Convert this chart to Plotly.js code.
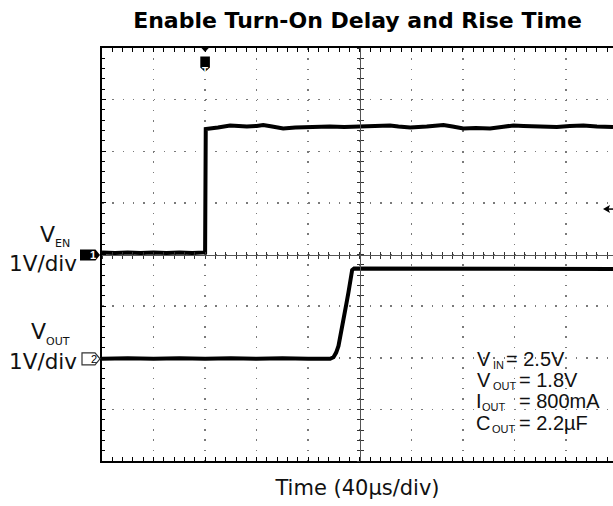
<!DOCTYPE html>
<html><head><meta charset="utf-8">
<script src="https://cdn.plot.ly/plotly-3.0.1.min.js"></script>
<style>html,body{margin:0;padding:0;background:#fff}#chart{width:613px;height:506px}</style>
</head><body><div id="chart"></div>
<script>
// ---- data (time in µs, volts) ----
const tEn = [-80, -70, -60, -50, -40, -30, -20, -10, 0, 0, 0.5, 10, 19.4, 26, 32.4, 40, 45.1, 52, 60.6, 70, 78.8, 88, 96.8, 108, 120.1, 132, 143.5, 150, 159.1, 172, 184.9, 192, 200.4, 210, 221.1, 230, 239.2, 247, 254.7, 264, 272.9, 283, 293.5, 304, 314.3, 316.5];
const vEn = [0.04, 0.03, 0.04, 0.03, 0.04, 0.03, 0.04, 0.03, 0.04, 2.40, 2.43, 2.46, 2.50, 2.49, 2.48, 2.49, 2.51, 2.48, 2.44, 2.46, 2.47, 2.48, 2.48, 2.47, 2.48, 2.49, 2.50, 2.48, 2.46, 2.48, 2.51, 2.48, 2.44, 2.45, 2.44, 2.47, 2.50, 2.49, 2.48, 2.47, 2.47, 2.49, 2.50, 2.48, 2.47, 2.47];
const tOut = [-80, -60, -40, -20, 0, 20, 40, 60, 80, 97, 99.6, 101.7, 103.5, 105.6, 107.4, 109.5, 111.2, 112.9, 114.1, 115.6, 130, 160, 190, 220, 250, 280, 316.5];
const vOut = [0.0, 0.01, 0.0, 0.01, 0.0, 0.01, 0.0, 0.01, 0.0, 0.0, 0.03, 0.12, 0.25, 0.5, 0.76, 1.05, 1.28, 1.6, 1.72, 1.75, 1.75, 1.74, 1.75, 1.74, 1.75, 1.74, 1.74];

const usPerDiv = 40;
const voltsPerDiv = 1;
const ch1Offset = 0;      // divisions
const ch2Offset = -2.02;  // divisions
const trigLevel = 0.88;   // volts, ch1
const xRange = [-80, 316.5];
const yRange = [-4, 4];

const chartTitle = 'Enable Turn-On Delay and Rise Time';
const xTitle = 'Time (40µs/div)';
const scaleText = '1V/div';
// [main symbol, subscript, value text]
const condMain = ['V', 'V', 'I', 'C'];
const condSub = ['IN', 'OUT', 'OUT', 'OUT'];
const condVal = ['= 2.5V', '= 1.8V', '= 800mA', '= 2.2µF'];

const wide = 'DejaVu Sans, sans-serif';
const narrow = 'Liberation Sans, Arial, sans-serif';

// pixel -> paper helpers for layout placement (plot area 102..613 x 48..461)
const P = px => (px - 102) / 511;
const Q = py => (461 - py) / 413;
const txt = (text, px, py, xanchor, family, size, extra) => Object.assign({xref: 'paper', yref: 'paper', x: P(px), y: Q(py),
  xanchor: xanchor, yanchor: 'middle', showarrow: false, borderpad: 0, borderwidth: 0, text: text,
  font: {family: family, size: size, color: '#111'}}, extra || {});

const traces = [
  {x: tEn, y: vEn.map(v => v / voltsPerDiv + ch1Offset), mode: 'lines', line: {color: '#000', width: 4}, showlegend: false, hoverinfo: 'skip'},
  {x: tOut, y: vOut.map(v => v / voltsPerDiv + ch2Offset), mode: 'lines', line: {color: '#000', width: 4}, showlegend: false, hoverinfo: 'skip'},
  {x: [null], y: [null], xaxis: 'x2', yaxis: 'y', showlegend: false, hoverinfo: 'skip'},
  {x: [null], y: [null], xaxis: 'x3', yaxis: 'y', showlegend: false, hoverinfo: 'skip'},
  {x: [null], y: [null], xaxis: 'x', yaxis: 'y2', showlegend: false, hoverinfo: 'skip'},
  {x: [null], y: [null], xaxis: 'x', yaxis: 'y3', showlegend: false, hoverinfo: 'skip'}
];

const gridStyle = {showgrid: true, gridcolor: '#7a7a7a', gridwidth: 1.5, griddash: '1.5px,8.8px'};
const centerX = (side) => ({overlaying: 'x', anchor: 'free', position: 0.5, range: xRange, showline: true, linecolor: '#555', linewidth: 1,
  ticks: side, ticklen: 3, tickcolor: '#333', dtick: usPerDiv, tick0: xRange[0], minor: {dtick: usPerDiv / 5, ticks: side, ticklen: 3, tickcolor: '#333'},
  showgrid: false, zeroline: false, showticklabels: false});
const centerY = (side) => ({overlaying: 'y', anchor: 'free', position: (120 - xRange[0]) / (xRange[1] - xRange[0]), range: yRange, showline: true, linecolor: '#555', linewidth: 1,
  ticks: side, ticklen: 3, tickcolor: '#333', dtick: 1, tick0: 0, minor: {dtick: 0.2, ticks: side, ticklen: 3, tickcolor: '#333'},
  showgrid: false, zeroline: false, showticklabels: false});

const condAnn = [];
const condCy = [359.2, 379.5, 400.8, 422.5];
const mainX = [476.5, 476.5, 476.2, 475.7];
const subX = [492.5, 492.5, 481.5, 491.5];
const valX = [505.7, 519.2, 519.2, 519.2];
condMain.forEach((m, i) => {
  condAnn.push(txt(m, mainX[i], condCy[i], 'left', narrow, 20));
  condAnn.push(txt(condSub[i], subX[i], condCy[i] + 6, 'left', narrow, 11));
  condAnn.push(txt(condVal[i], valX[i], condCy[i], 'left', narrow, 20));
});

const layout = {
  width: 613, height: 506,
  margin: {l: 102, r: 0, t: 48, b: 45},
  paper_bgcolor: '#fff', plot_bgcolor: '#fff',
  title: {text: chartTitle, font: {family: wide, size: 22, color: '#000', weight: 'bold'},
    x: 0.5, xref: 'paper', xanchor: 'center', y: 1 - 20.5 / 506, yref: 'container', yanchor: 'middle'},
  xaxis: Object.assign({range: xRange, dtick: usPerDiv, tick0: xRange[0], ticks: 'inside', ticklen: 4, tickcolor: '#000', tickwidth: 1,
    minor: {dtick: usPerDiv / 5, ticks: 'inside', ticklen: 3, tickcolor: '#000', showgrid: false},
    showticklabels: false, showline: true, linecolor: '#000', linewidth: 2, mirror: 'allticks', zeroline: false,
    title: {text: xTitle, font: {family: wide, size: 21, color: '#111'}, standoff: 18}}, gridStyle),
  yaxis: Object.assign({range: yRange, dtick: 1, tick0: 0, ticks: 'inside', ticklen: 4, tickcolor: '#000', tickwidth: 1,
    minor: {dtick: 0.2, ticks: 'inside', ticklen: 3, tickcolor: '#000', showgrid: false},
    showticklabels: false, showline: true, linecolor: '#000', linewidth: 2, zeroline: false}, gridStyle),
  xaxis2: centerX('inside'), xaxis3: centerX('outside'),
  yaxis2: centerY('inside'), yaxis3: centerY('outside'),
  shapes: [
    // channel 1 ground marker
    {type: 'path', xref: 'paper', yref: 'y', xsizemode: 'pixel', ysizemode: 'pixel', xanchor: 0, yanchor: ch1Offset,
      path: 'M-22,5 L-6.5,5 L-2,-0.5 L-6.5,-6 L-22,-6 Z', fillcolor: '#000', line: {width: 0}},
    // channel 2 ground marker
    {type: 'path', xref: 'paper', yref: 'y', xsizemode: 'pixel', ysizemode: 'pixel', xanchor: 0, yanchor: ch2Offset,
      path: 'M-20,6 L-7,6 L-2,0 L-7,-6 L-20,-6 Z', fillcolor: '#fff', line: {width: 1.2, color: '#333'}},
    // trigger position marker
    {type: 'path', xref: 'x', yref: 'paper', xsizemode: 'pixel', ysizemode: 'pixel', xanchor: 0, yanchor: 1,
      path: 'M-5,1.5 L5,1.5 L0,-4 Z', fillcolor: '#000', line: {width: 0}},
    {type: 'path', xref: 'x', yref: 'paper', xsizemode: 'pixel', ysizemode: 'pixel', xanchor: 0, yanchor: 1,
      path: 'M-4.8,-8.5 L4.8,-8.5 L4.8,-19.5 L0,-24 L-4.8,-19.5 Z', fillcolor: '#000', line: {width: 0}},
    // trigger level marker
    {type: 'path', xref: 'paper', yref: 'y', xsizemode: 'pixel', ysizemode: 'pixel', xanchor: 1, yanchor: trigLevel / voltsPerDiv + ch1Offset,
      path: 'M-10,0 L-3,4 L-4.5,0 L-3,-4 Z', fillcolor: '#000', line: {width: 0}},
    {type: 'line', xref: 'paper', yref: 'y', xsizemode: 'pixel', ysizemode: 'pixel', xanchor: 1, yanchor: trigLevel / voltsPerDiv + ch1Offset,
      x0: -5, x1: 2, y0: 0, y1: 0, line: {width: 1.5, color: '#000'}}
  ],
  annotations: [
    // channel labels
    txt('V', 54.5, 234, 'right', wide, 22),
    txt('EN', 55, 243, 'left', wide, 11),
    txt(scaleText, 76.5, 263.5, 'right', wide, 21.5),
    txt('V', 45.5, 331, 'right', wide, 22),
    txt('OUT', 45.5, 341.5, 'left', wide, 11),
    txt(scaleText, 76.5, 361.5, 'right', wide, 21.5),
    // channel / trigger marker glyphs
    {xref: 'paper', yref: 'y', x: 0, y: ch1Offset, xshift: -14, yshift: -0.5, showarrow: false, text: '<b>1</b>', font: {family: narrow, size: 11, color: '#fff'}},
    {xref: 'paper', yref: 'y', x: 0, y: ch2Offset, xshift: -13, showarrow: false, text: '2', font: {family: narrow, size: 11, color: '#000'}},
    {xref: 'x', yref: 'paper', x: 0, y: 1, yshift: -15.5, showarrow: false, text: '<b>T</b>', font: {family: narrow, size: 10, color: '#fff'}}
  ].concat(condAnn)
};

Plotly.newPlot('chart', traces, layout, {displayModeBar: false, staticPlot: true});
</script>
</body></html>
